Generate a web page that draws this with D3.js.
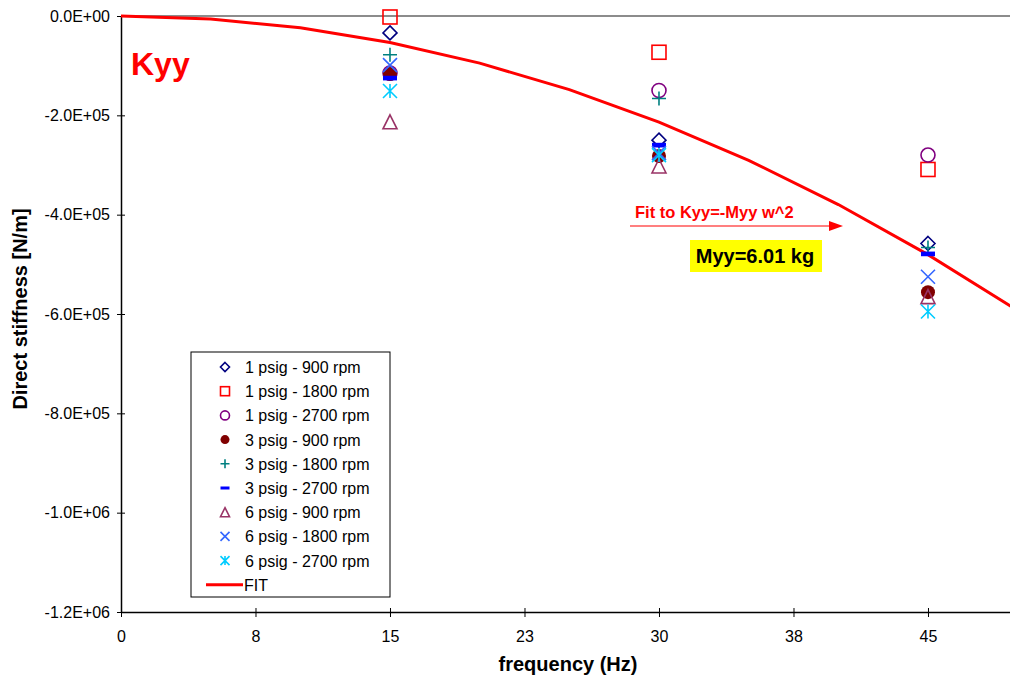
<!DOCTYPE html>
<html>
<head>
<meta charset="utf-8">
<script src="https://cdn.jsdelivr.net/npm/d3@7"></script>
<style>
  body { margin: 0; background: #fff; }
  svg { display: block; font-family: "Liberation Sans", Arial, sans-serif; }
</style>
</head>
<body>
<div id="chart"></div>
<script>
// frequencies of the test points (Hz)
var freqs = [15, 30, 45];

// series names and measured Kyy (N/m) at 15, 30, 45 Hz
var seriesNames = [
  "1 psig - 900 rpm", "1 psig - 1800 rpm", "1 psig - 2700 rpm",
  "3 psig - 900 rpm", "3 psig - 1800 rpm", "3 psig - 2700 rpm",
  "6 psig - 900 rpm", "6 psig - 1800 rpm", "6 psig - 2700 rpm"
];
var k1psig900 = [-34000, -250000, -458000];
var k1psig1800 = [-2000, -73000, -309000];
var k1psig2700 = [-115000, -150000, -280000];
var k3psig900 = [-117000, -282000, -556000];
var k3psig1800 = [-78000, -166000, -466000];
var k3psig2700 = [-125000, -260000, -479000];
var k6psig900 = [-213000, -302000, -565000];
var k6psig1800 = [-99000, -276000, -525000];
var k6psig2700 = [-151000, -280000, -595000];

// fit curve Kyy = -Myy w^2, Myy = 6.01 kg
var fitFreq = [0, 5, 10, 15, 20, 25, 30, 35, 40, 45, 50];
var fitK = [0, -5932, -23726, -53384, -94905, -148289, -213536, -290645, -379618, -480454, -593152];

// axis ticks
var xTicks = [0, 7.5, 15, 22.5, 30, 37.5, 45];
var xTickLabels = ["0", "8", "15", "23", "30", "38", "45"];
var yTicks = [0, -200000, -400000, -600000, -800000, -1000000, -1200000];
var yTickLabels = ["0.0E+00", "-2.0E+05", "-4.0E+05", "-6.0E+05", "-8.0E+05", "-1.0E+06", "-1.2E+06"];

var seriesValues = [k1psig900, k1psig1800, k1psig2700, k3psig900, k3psig1800,
  k3psig2700, k6psig900, k6psig1800, k6psig2700];
var markerTypes = ["diamond", "square", "circle", "dot", "plus", "dash", "triangle", "cross", "star"];
var markerColors = ["#000080", "#ff0000", "#800080", "#800000", "#008080", "#0000ff", "#993366", "#3366ff", "#00ccff"];

var W = 1010, H = 681;
var margin = { top: 16, left: 121, bottom: 69 };

var svg = d3.select("#chart").append("svg")
  .attr("width", W)
  .attr("height", H);

var x = d3.scaleLinear().domain([0, 52.5]).range([margin.left, margin.left + 52.5 * 17.933]);
var y = d3.scaleLinear().domain([-1200000, 0]).range([H - margin.bottom, margin.top]);

// top border line
svg.append("line")
  .attr("x1", margin.left).attr("x2", W)
  .attr("y1", y(0)).attr("y2", y(0))
  .attr("stroke", "#8c8c8c").attr("stroke-width", 2);

// y axis
var yAxis = svg.append("g")
  .attr("transform", "translate(" + margin.left + ",0)")
  .call(d3.axisLeft(y).tickValues(yTicks).tickSize(4).tickSizeOuter(0)
    .tickFormat(function (d, i) { return yTickLabels[i]; }));
yAxis.select(".domain").attr("stroke", "#000").attr("stroke-width", 1.5);
yAxis.selectAll(".tick line").attr("x2", 4).attr("x1", -4);
yAxis.selectAll(".tick text")
  .attr("x", -11)
  .style("font-size", "16px")
  .style("font-family", "Liberation Sans, Arial, sans-serif")
  .attr("fill", "#000");

// x axis
var xAxis = svg.append("g")
  .attr("transform", "translate(0," + y(-1200000) + ")")
  .call(d3.axisBottom(x).tickValues(xTicks).tickSize(5).tickSizeOuter(0)
    .tickFormat(function (d, i) { return xTickLabels[i]; }));
xAxis.select(".domain").attr("stroke", "#000").attr("stroke-width", 1.5);
xAxis.selectAll(".tick line").attr("y1", -4).attr("y2", 5);
xAxis.selectAll(".tick text")
  .attr("y", 19)
  .style("font-size", "16px")
  .style("font-family", "Liberation Sans, Arial, sans-serif")
  .attr("fill", "#000");

// axis titles
svg.append("text")
  .attr("transform", "translate(27,309) rotate(-90)")
  .attr("text-anchor", "middle")
  .style("font-size", "20px")
  .style("font-weight", "bold")
  .text("Direct stiffness [N/m]");

svg.append("text")
  .attr("x", 568)
  .attr("y", 671)
  .attr("text-anchor", "middle")
  .style("font-size", "20px")
  .style("font-weight", "bold")
  .text("frequency (Hz)");

// fit line
var line = d3.line()
  .x(function (d) { return x(d[0]); })
  .y(function (d) { return y(d[1]); });

svg.append("path")
  .datum(d3.zip(fitFreq, fitK))
  .attr("d", line)
  .attr("fill", "none")
  .attr("stroke", "#ff0000")
  .attr("stroke-width", 3);

// marker drawing
function drawMarker(g, type, color, s) {
  var h = s / 2;
  if (type === "diamond") {
    g.append("path").attr("d", "M0," + (-h) + "L" + h + ",0L0," + h + "L" + (-h) + ",0Z")
      .attr("fill", "none").attr("stroke", color).attr("stroke-width", 1.6);
  } else if (type === "square") {
    g.append("rect").attr("x", -h).attr("y", -h).attr("width", s).attr("height", s)
      .attr("fill", "none").attr("stroke", color).attr("stroke-width", 1.6);
  } else if (type === "circle") {
    g.append("circle").attr("r", h)
      .attr("fill", "none").attr("stroke", color).attr("stroke-width", 1.6);
  } else if (type === "dot") {
    g.append("circle").attr("r", h).attr("fill", color);
  } else if (type === "plus") {
    g.append("path").attr("d", "M" + (-h) + ",0H" + h + "M0," + (-h) + "V" + h)
      .attr("stroke", color).attr("stroke-width", 1.6);
  } else if (type === "dash") {
    g.append("rect").attr("x", -h).attr("y", -s / 6).attr("width", s).attr("height", s / 3)
      .attr("fill", color);
  } else if (type === "triangle") {
    g.append("path").attr("d", "M0," + (-h) + "L" + h + "," + h + "L" + (-h) + "," + h + "Z")
      .attr("fill", "none").attr("stroke", color).attr("stroke-width", 1.6);
  } else if (type === "cross") {
    g.append("path").attr("d", "M" + (-h) + "," + (-h) + "L" + h + "," + h + "M" + h + "," + (-h) + "L" + (-h) + "," + h)
      .attr("stroke", color).attr("stroke-width", 1.6);
  } else if (type === "star") {
    g.append("path").attr("d", "M" + (-h) + "," + (-h) + "L" + h + "," + h + "M" + h + "," + (-h) + "L" + (-h) + "," + h + "M0," + (-h) + "V" + h)
      .attr("stroke", color).attr("stroke-width", 1.6);
  }
}

// data points
seriesValues.forEach(function (vals, si) {
  vals.forEach(function (v, i) {
    var g = svg.append("g")
      .attr("transform", "translate(" + x(freqs[i]) + "," + y(v) + ")");
    drawMarker(g, markerTypes[si], markerColors[si], 14);
  });
});

// legend
var legend = svg.append("g").attr("transform", "translate(191,352)");
legend.append("rect")
  .attr("width", 199).attr("height", 245)
  .attr("fill", "#fff").attr("stroke", "#000").attr("stroke-width", 1);

seriesNames.forEach(function (name, i) {
  var row = legend.append("g").attr("transform", "translate(0," + (15 + i * 24.2) + ")");
  var m = row.append("g").attr("transform", "translate(34,0)");
  drawMarker(m, markerTypes[i], markerColors[i], 9);
  row.append("text").attr("x", 54).attr("y", 6)
    .style("font-size", "16px").text(name);
});
var fitRow = legend.append("g").attr("transform", "translate(0," + (15 + 9 * 24.2) + ")");
fitRow.append("line").attr("x1", 15).attr("x2", 52).attr("y1", 0).attr("y2", 0)
  .attr("stroke", "#ff0000").attr("stroke-width", 3);
fitRow.append("text").attr("x", 53).attr("y", 6)
  .style("font-size", "16px").text("FIT");

// annotations
svg.append("text")
  .attr("x", 131).attr("y", 75)
  .attr("fill", "#ff0000")
  .style("font-size", "32px").style("font-weight", "bold")
  .text("Kyy");

svg.append("text")
  .attr("x", 635).attr("y", 218)
  .attr("fill", "#ff0000")
  .style("font-size", "16.5px").style("font-weight", "bold")
  .text("Fit to Kyy=-Myy w^2");

svg.append("line")
  .attr("x1", 630).attr("x2", 830).attr("y1", 226).attr("y2", 226)
  .attr("stroke", "#ff0000").attr("stroke-width", 1.2);
svg.append("path")
  .attr("d", "M843,226L829,221L829,231Z")
  .attr("fill", "#ff0000");

svg.append("rect")
  .attr("x", 690).attr("y", 240).attr("width", 132).attr("height", 32)
  .attr("fill", "#ffff00");
svg.append("text")
  .attr("x", 755).attr("y", 263)
  .attr("text-anchor", "middle")
  .style("font-size", "20px").style("font-weight", "bold")
  .text("Myy=6.01 kg");
</script>
</body>
</html>
